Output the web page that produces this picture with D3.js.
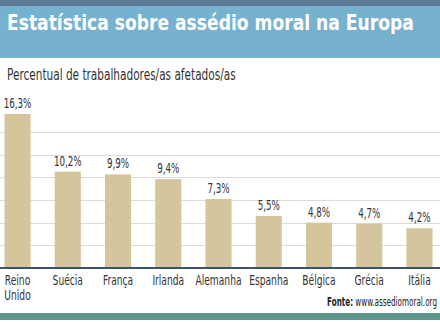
<!DOCTYPE html>
<html>
<head>
<meta charset="utf-8">
<script src="https://cdn.jsdelivr.net/npm/d3@7"></script>
<style>
  body { margin: 0; background: #fff; }
  svg { display: block; }
</style>
</head>
<body>
<div id="chart"></div>
<script>
const paises = ["Reino Unido", "Suécia", "França", "Irlanda", "Alemanha", "Espanha", "Bélgica", "Grécia", "Itália"];
const valores = [16.3, 10.2, 9.9, 9.4, 7.3, 5.5, 4.8, 4.7, 4.2];
const grade = [2.4, 4.8, 7.2, 9.6, 12, 14.4];

const width = 440, height = 322;
const font = "'DejaVu Sans Condensed', 'DejaVu Sans', sans-serif";

const pt = d3.formatLocale({decimal: ",", thousands: ".", grouping: [3], currency: ["", ""]});
const fmt = d => pt.format(".1f")(d) + "%";

const svg = d3.select("#chart").append("svg")
    .attr("width", width)
    .attr("height", height)
    .attr("font-family", font);

// estreita o texto na horizontal em torno do seu x (fonte condensada)
function squeeze(sel, k) {
  sel.each(function() {
    const t = d3.select(this);
    const x0 = +t.attr("x");
    t.attr("transform", `matrix(${k},0,0,1,${x0 * (1 - k)},0)`);
  });
}
// estreita até caber numa largura
function fitWidth(sel, w) {
  const len = sel.node().getComputedTextLength();
  squeeze(sel, w / len);
}

// cabeçalho
svg.append("rect").attr("x", 0).attr("y", 0).attr("width", width).attr("height", 6).attr("fill", "#5e7795");
svg.append("rect").attr("x", 0).attr("y", 6).attr("width", width).attr("height", 52).attr("fill", "#76b2cf");
svg.append("text")
    .attr("x", 7).attr("y", 30)
    .attr("fill", "#fff")
    .attr("font-weight", "bold")
    .attr("font-size", 21)
    .text("Estatística sobre assédio moral na Europa")
    .call(fitWidth, 407);

svg.append("text")
    .attr("x", 7).attr("y", 80)
    .attr("fill", "#333")
    .attr("font-size", 15.5)
    .text("Percentual de trabalhadores/as afetados/as")
    .call(fitWidth, 229);

const x = d3.scaleBand()
    .domain(paises)
    .range([-7.6, 444.6])
    .paddingInner(0.48)
    .paddingOuter(0.24);

const y = d3.scaleLinear()
    .domain([0, 16.8])
    .range([268, 109.2]);

// linhas de grade
svg.append("g")
  .selectAll("line")
  .data(grade)
  .join("line")
    .attr("x1", 0).attr("x2", width)
    .attr("y1", d => Math.round(y(d)) + 0.5)
    .attr("y2", d => Math.round(y(d)) + 0.5)
    .attr("stroke", "#dcdcdc")
    .attr("stroke-width", 1);

svg.append("g")
  .selectAll("rect")
  .data(valores)
  .join("rect")
    .attr("x", (d, i) => x(paises[i]))
    .attr("y", d => y(d))
    .attr("width", x.bandwidth())
    .attr("height", d => y(0) - y(d))
    .attr("fill", "#d5c59d");

svg.append("g")
    .attr("font-size", 13.5)
    .attr("fill", "#333")
    .attr("text-anchor", "middle")
  .selectAll("text")
  .data(valores)
  .join("text")
    .attr("x", (d, i) => x(paises[i]) + x.bandwidth() / 2)
    .attr("y", d => y(d) - 6)
    .text(fmt)
    .call(squeeze, 0.72);

// eixo
svg.append("line")
    .attr("x1", 0).attr("x2", width)
    .attr("y1", 268).attr("y2", 268)
    .attr("stroke", "#3c5369")
    .attr("stroke-width", 2);

const rot = svg.append("g")
    .attr("font-size", 14.5)
    .attr("fill", "#333")
    .attr("text-anchor", "middle")
  .selectAll("text")
  .data(paises)
  .join("text")
    .attr("x", d => x(d) + x.bandwidth() / 2)
    .attr("y", 285);

rot.selectAll("tspan")
  .data(d => d.split(" "))
  .join("tspan")
    .attr("x", function() { return d3.select(this.parentNode).attr("x"); })
    .attr("dy", (d, i) => i ? 15 : 0)
    .text(d => d);
rot.call(squeeze, 0.7);

const fonte = svg.append("text")
    .attr("x", 437).attr("y", 306)
    .attr("text-anchor", "end")
    .attr("font-size", 12.5)
    .attr("fill", "#222");
fonte.append("tspan").attr("font-weight", "bold").text("Fonte:");
fonte.append("tspan").text(" www.assediomoral.org");
fonte.call(fitWidth, 110);

svg.append("rect").attr("x", 0).attr("y", 313).attr("width", width).attr("height", 7).attr("fill", "#5f958f");
</script>
</body>
</html>
